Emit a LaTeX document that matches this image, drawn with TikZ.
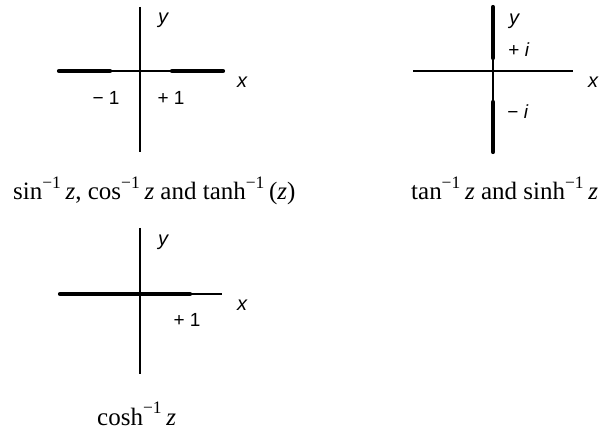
\documentclass[tikz,border=0pt]{standalone}
\usepackage{fontspec}
\setmainfont{Liberation Serif}
\newfontfamily\axfont{Liberation Sans}
\begin{document}
\begin{tikzpicture}[x=1pt,y=-1pt,
  thinax/.style={line width=1.8pt},
  cutline/.style={line width=4.2pt,line cap=round},
  midcut/.style={line width=2.8pt},
  axlab/.style={font=\axfont\fontsize{20}{20}\selectfont\itshape,inner sep=0pt},
  numlab/.style={font=\axfont\fontsize{19}{19}\selectfont,inner sep=0pt},
  captext/.style={font=\fontsize{25}{26}\selectfont,inner sep=0pt,anchor=base west}]
\newcommand{\minv}{\textsuperscript{\raisebox{0.15em}{−1}}\,}
\useasboundingbox (0,0) rectangle (602,430);
% panel 1
\coordinate (a1t) at (140,7); \coordinate (a1b) at (140,152);
\coordinate (a1l) at (59,71); \coordinate (a1r) at (223,71);
\coordinate (a1m) at (110,71); \coordinate (a1p) at (172,71);
\draw[thinax] (a1t) -- (a1b);
\draw[thinax] (a1l) -- (a1r);
\draw[cutline] (a1l) -- (a1m);
\draw[cutline] (a1p) -- (a1r);
\node[axlab] (y1) at (163,20) {y};
\node[axlab] (x1) at (242,82) {x};
\node[numlab] (m1) at (106,98) {− 1};
\node[numlab] (p1) at (171,98) {+ 1};
\node[captext] (c1) at (13,200) {sin\minv\textit{z}, cos\minv\textit{z} and tanh\minv(\textit{z})};
% panel 2
\coordinate (a2t) at (493,7); \coordinate (a2b) at (493,152);
\coordinate (a2l) at (413,71); \coordinate (a2r) at (573,71);
\coordinate (a2u) at (493,58); \coordinate (a2d) at (493,102);
\coordinate (a2q) at (542,71);
\draw[thinax] (a2t) -- (a2b);
\draw[thinax] (a2l) -- (a2r);
\draw[cutline] (a2t) -- (a2u);
\draw[cutline] (a2d) -- (a2b);
\draw[midcut] (a2q) -- (a2r);
\node[axlab] (y2) at (514,21) {y};
\node[axlab] (x2) at (593,82) {x};
\node[numlab] (p2) at (519,50) {+ \textit{i}};
\node[numlab] (m2) at (518,112) {− \textit{i}};
\node[captext] (c2) at (411,200) {tan\minv\textit{z} and sinh\minv\textit{z}};
% panel 3
\coordinate (a3t) at (140,228); \coordinate (a3b) at (140,374);
\coordinate (a3l) at (60,294); \coordinate (a3r) at (222,294);
\coordinate (a3m) at (190,294);
\draw[thinax] (a3t) -- (a3b);
\draw[thinax] (a3l) -- (a3r);
\draw[cutline] (a3l) -- (a3m);
\node[axlab] (y3) at (163,242) {y};
\node[axlab] (x3) at (242,305) {x};
\node[numlab] (p3) at (187,320) {+ 1};
\node[captext] (c3) at (97,425) {cosh\minv\textit{z}};
\end{tikzpicture}
\end{document}
